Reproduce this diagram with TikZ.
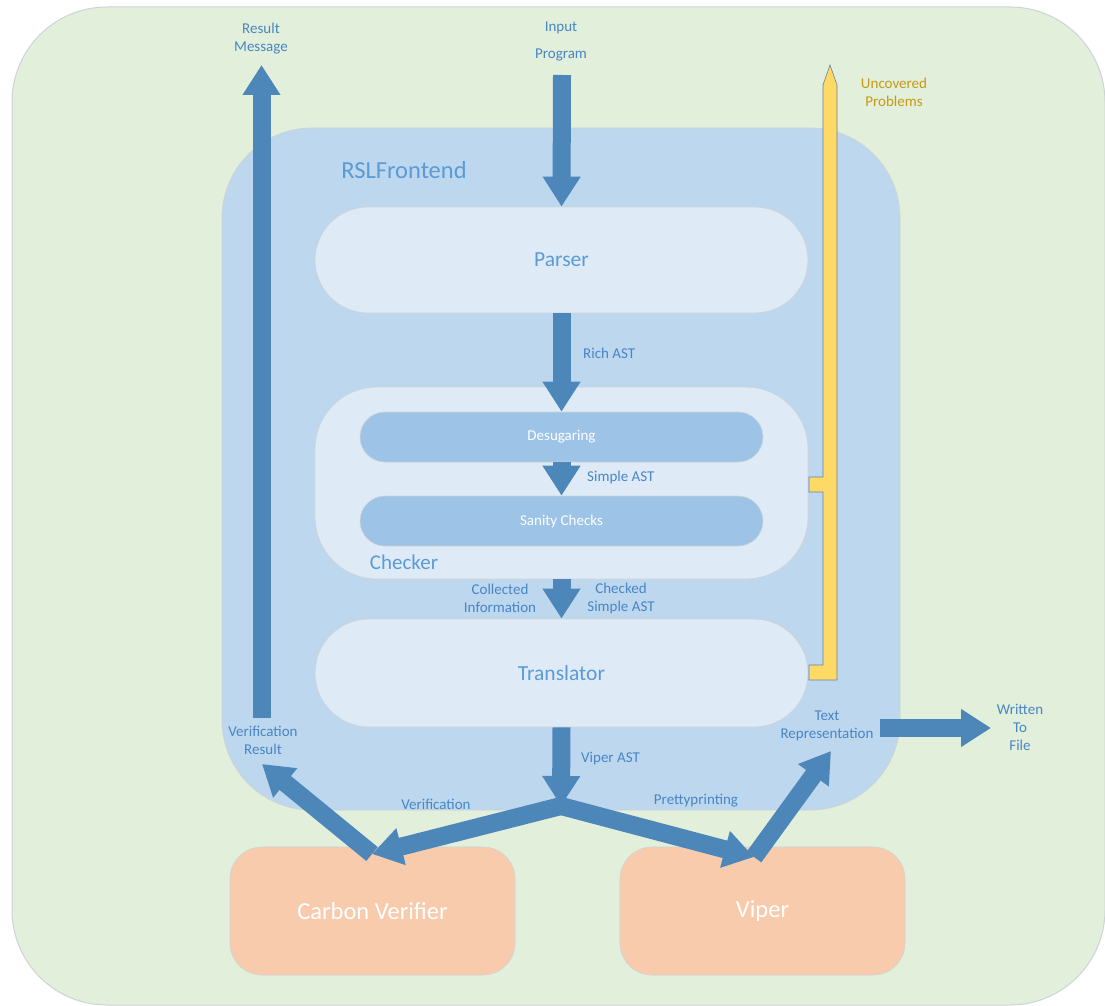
\documentclass[tikz,border=0pt]{standalone}
\usepackage{fontspec}
\setmainfont{Carlito}
\usetikzlibrary{arrows.meta}
\definecolor{bggreen}{RGB}{226,239,218}
\definecolor{bgline}{RGB}{205,212,215}
\definecolor{feblue}{RGB}{189,215,238}
\definecolor{boxlight}{RGB}{222,235,247}
\definecolor{boxmid}{RGB}{157,195,230}
\definecolor{boxorange}{RGB}{248,203,173}
\definecolor{arrowblue}{RGB}{77,135,185}
\definecolor{txtblue}{RGB}{72,134,196}
\definecolor{titleblue}{RGB}{91,155,213}
\definecolor{goldtxt}{RGB}{196,154,20}
\definecolor{yellowfill}{RGB}{255,217,102}
\definecolor{yellowline}{RGB}{100,130,160}
\tikzset{
  bigbox/.style={draw=bgline, line width=0.8pt, fill=boxlight, text=titleblue,
    minimum width=493pt, font=\fontsize{21.5}{25}\selectfont, inner sep=0pt},
  midbox/.style={draw=bgline, line width=0.6pt, fill=boxmid, text=white,
    minimum width=403pt, minimum height=50pt, rounded corners=25pt,
    font=\fontsize{15}{18}\selectfont, inner sep=0pt},
  orbox/.style={draw=bgline, line width=0.6pt, fill=boxorange, text=white,
    minimum width=285pt, minimum height=128pt, rounded corners=32pt,
    font=\fontsize{24.5}{28}\selectfont, inner sep=0pt},
  lbl/.style={text=txtblue, font=\fontsize{15}{18}\selectfont, align=center, inner sep=0pt},
  blk/.style={draw=arrowblue, line width=18pt, line cap=butt,
    -{Triangle[width=36pt,length=30pt]}},
}
\begin{document}
\begin{tikzpicture}[x=1pt,y=-1pt]
\useasboundingbox (0,0) rectangle (1105,1006);
\fill[white] (0,0) rectangle (1105,1006);
% outer green
\draw[fill=bggreen, draw=bgline, line width=1pt, rounded corners=95pt] (12,7) rectangle (1105,1005);
% RSLFrontend
\draw[fill=feblue, draw=bgline, line width=0.8pt, rounded corners=90pt] (222,128) rectangle (900,810);
\node[text=titleblue, font=\fontsize{24.5}{28}\selectfont, inner sep=0pt] (rsl) at (404,170) {RSLFrontend};
% boxes
\node[bigbox, minimum height=106pt, rounded corners=53pt] (parser) at (561.5,260) {Parser};
\node[bigbox, minimum height=192pt, rounded corners=62pt] (checker) at (561.5,483) {};
\node[text=titleblue, font=\fontsize{21}{24}\selectfont, inner sep=0pt] (checkerlbl) at (404,562) {Checker};
\node[midbox] (desug) at (561.5,437) {Desugaring};
\node[midbox] (sanity) at (561.5,521) {Sanity Checks};
\node[bigbox, minimum height=108pt, rounded corners=54pt] (trans) at (561.5,673) {Translator};
\node[orbox] (carbon) at (372.5,911) {Carbon Verifier};
\node[orbox] (viper) at (762.5,911) {Viper};
% yellow pencil arrow
\draw[fill=yellowfill, draw=yellowline, line width=0.6pt]
  (830,65) -- (837,85) -- (837,680) -- (809,680) -- (809,665) -- (823,665)
  -- (823,492) -- (809,492) -- (809,477) -- (823,477) -- (823,85) -- cycle;
% coordinates
\coordinate (inTop) at (562,75);
\coordinate (resBot) at (261.5,718);
\coordinate (resTop) at (261.5,65);
\coordinate (junc) at (561,806);
\coordinate (cvIn) at (372,854);
\coordinate (vpIn) at (754,857);
\coordinate (vrTip) at (262,764);
\coordinate (trTip) at (831,751);
\coordinate (wfStart) at (880,728);
\coordinate (wfTip) at (991,728);
% arrows
\draw[blk] (inTop) -- (parser.north);
\draw[blk] (resBot) -- (resTop);
\draw[blk] (parser.south) -- (desug.north);
\draw[blk] (desug.south) -- (sanity.north);
\draw[blk] (checker.south) -- (trans.north);
\draw[blk] (trans.south) -- (junc);
\draw[blk] (junc) -- (cvIn);
\draw[blk] (junc) -- (vpIn);
\draw[blk] (cvIn) -- (vrTip);
\draw[blk] (vpIn) -- (trTip);
\draw[blk] (wfStart) -- (wfTip);
% labels
\node[lbl] (resmsg) at (261,39) {Result\\Message};
\node[lbl] (inp1) at (561,28) {Input};
\node[lbl] (inp2) at (561,55) {Program};
\node[lbl, text=goldtxt] (uncov) at (894,92) {Uncovered\\Problems};
\node[lbl, anchor=west] (rich) at (583,353) {Rich AST};
\node[lbl, anchor=west] (simple) at (587,477) {Simple AST};
\node[lbl] (collected) at (500,598) {Collected\\Information};
\node[lbl] (checked) at (621,598) {Checked\\Simple AST};
\node[lbl] (verres) at (263,740) {Verification\\Result};
\node[lbl, anchor=west] (viperast) at (581,759) {Viper AST};
\node[lbl] (verif) at (436,804) {Verification};
\node[lbl] (pretty) at (696,801) {Prettyprinting};
\node[lbl] (textrep) at (827,726) {Text\\Representation};
\node[lbl] (written) at (1020,727) {Written\\To\\File};
\end{tikzpicture}
\end{document}
